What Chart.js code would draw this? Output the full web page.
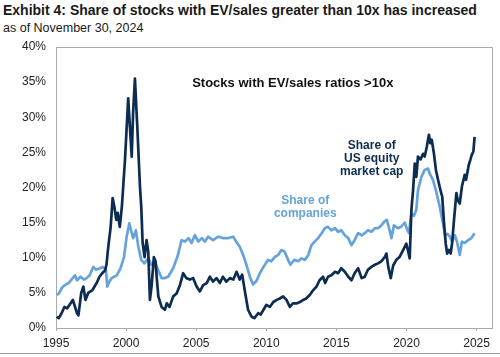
<!DOCTYPE html>
<html><head><meta charset="utf-8">
<script src="https://cdn.jsdelivr.net/npm/chart.js@4.4.0/dist/chart.umd.min.js"></script>
<style>
html,body{margin:0;padding:0;background:#fff;}
#wrap{position:relative;width:500px;height:357px;overflow:hidden;font-family:"Liberation Sans",Arial,sans-serif;color:#1a1a1a;}
#title{position:absolute;left:3px;top:2px;font-weight:bold;font-size:14px;white-space:nowrap;}
#sub{position:absolute;left:3px;top:21px;font-size:12.5px;white-space:nowrap;}
#rule{position:absolute;left:0;top:353px;width:500px;height:1px;background:#9a9a9a;}
canvas{position:absolute;left:0;top:0;}
</style></head>
<body>
<div id="wrap">
<div id="title">Exhibit 4: Share of stocks with EV/sales greater than 10x has increased</div>
<div id="sub">as of November 30, 2024</div>
<canvas id="c" width="500" height="357"></canvas>
<div id="rule"></div>
</div>
<script>
const xTicks = [1995, 2000, 2005, 2010, 2015, 2020, 2025];
const yTicks = [0, 5, 10, 15, 20, 25, 30, 35, 40];

const capYears = [1995.05,1995.2,1995.4,1995.6,1995.8,1996.2,1996.5,1996.6,1996.8,1996.95,1997.1,1997.3,1997.6,1997.9,1998.1,1998.3,1998.5,1998.6,1998.73,1998.9,1999.04,1999.15,1999.3,1999.4,1999.55,1999.7,1999.92,2000.15,2000.4,2000.5,2000.63,2000.8,2000.99,2001.08,2001.18,2001.32,2001.46,2001.58,2001.7,2001.82,2001.98,2002.1,2002.18,2002.3,2002.53,2002.77,2002.9,2003.1,2003.36,2003.6,2003.84,2004.07,2004.3,2004.55,2004.78,2005.03,2005.26,2005.5,2005.75,2005.98,2006.2,2006.45,2006.69,2006.9,2007.15,2007.4,2007.65,2007.88,2008.1,2008.28,2008.5,2008.7,2008.95,2009.15,2009.42,2009.6,2009.8,2010.0,2010.25,2010.5,2010.75,2010.96,2011.2,2011.44,2011.68,2011.9,2012.15,2012.4,2012.63,2012.85,2013.1,2013.35,2013.58,2013.8,2014.05,2014.2,2014.4,2014.65,2014.9,2015.12,2015.35,2015.6,2015.85,2016.08,2016.3,2016.55,2016.8,2017.02,2017.25,2017.5,2017.75,2017.97,2018.2,2018.45,2018.57,2018.7,2018.88,2019.05,2019.28,2019.5,2019.76,2019.99,2020.1,2020.23,2020.35,2020.47,2020.59,2020.7,2020.82,2021.0,2021.18,2021.3,2021.45,2021.6,2021.7,2021.8,2021.96,2022.1,2022.25,2022.45,2022.55,2022.68,2022.8,2022.9,2023.03,2023.15,2023.25,2023.39,2023.56,2023.65,2023.8,2023.95,2024.15,2024.25,2024.44,2024.55,2024.65,2024.77,2024.86];
const capValues = [1.6,1.4,2.1,3.0,2.8,4.0,2.1,1.8,5.0,5.9,4.0,5.0,5.4,6.4,7.3,7.8,8.2,9.0,11.6,14.4,18.5,17.4,15.4,16.4,14.4,17.3,23.9,32.7,24.4,30.6,35.5,28.6,20.1,17.3,12.1,10.1,12.5,10.9,4.0,6.0,10.1,9.5,7.3,4.5,3.0,2.6,3.5,3.0,4.5,4.9,6.1,7.8,7.1,6.9,7.1,5.9,5.2,6.1,6.4,7.3,6.6,7.1,6.4,7.3,6.6,7.1,6.9,8.0,6.9,7.6,4.9,2.6,1.6,1.4,2.1,1.9,2.6,3.3,3.0,3.7,4.0,4.2,4.5,4.0,3.0,3.5,3.5,3.7,4.0,4.2,4.7,5.4,5.9,6.8,7.3,6.4,7.3,7.5,8.0,7.8,8.5,8.0,7.3,6.8,7.8,8.5,7.1,7.3,8.3,8.7,9.0,9.2,9.5,10.1,10.6,8.7,7.1,8.9,9.7,10.1,11.1,12.0,11.1,9.9,16.8,19.6,23.4,21.5,24.4,24.0,24.8,24.4,25.8,27.5,26.3,26.8,24.8,22.5,21.1,19.4,18.7,14.9,12.0,10.6,11.1,10.6,12.0,15.4,19.2,18.3,17.7,20.1,21.8,21.1,23.2,23.9,24.6,25.1,27.2];

const coYears = [1995.05,1995.2,1995.45,1995.64,1995.9,1996.15,1996.35,1996.5,1996.75,1997.0,1997.19,1997.4,1997.66,1997.85,1998.14,1998.35,1998.56,1998.66,1998.8,1998.97,1999.15,1999.33,1999.6,1999.85,2000.04,2000.23,2000.38,2000.5,2000.7,2000.87,2001.08,2001.3,2001.58,2001.8,2002.05,2002.29,2002.53,2002.75,2003.0,2003.36,2003.7,2003.95,2004.2,2004.45,2004.67,2004.9,2005.15,2005.4,2005.62,2005.85,2006.2,2006.57,2006.9,2007.3,2007.64,2007.85,2008.1,2008.35,2008.55,2008.83,2009.06,2009.3,2009.54,2009.8,2010.13,2010.35,2010.6,2010.85,2011.08,2011.3,2011.56,2011.72,2012.0,2012.27,2012.5,2012.75,2013.0,2013.22,2013.45,2013.7,2013.95,2014.17,2014.4,2014.65,2014.9,2015.12,2015.35,2015.6,2015.85,2016.08,2016.3,2016.55,2016.8,2017.02,2017.25,2017.5,2017.75,2017.97,2018.2,2018.45,2018.6,2018.8,2018.93,2019.1,2019.4,2019.6,2019.88,2020.05,2020.18,2020.35,2020.54,2020.7,2020.82,2021.06,2021.3,2021.53,2021.65,2021.89,2022.1,2022.37,2022.6,2022.75,2022.92,2023.1,2023.25,2023.45,2023.6,2023.8,2023.95,2024.15,2024.4,2024.63,2024.86];
const coValues = [4.7,4.9,5.8,6.1,6.4,7.0,7.5,6.8,7.3,6.9,7.1,7.5,8.7,8.3,8.5,8.7,8.3,5.9,6.6,7.1,7.3,7.5,8.5,10.1,13.0,14.9,13.7,12.8,13.9,11.6,9.7,9.2,9.9,9.0,9.5,8.2,7.1,7.1,7.3,8.5,10.4,12.5,12.3,12.8,12.1,13.2,12.3,12.8,12.3,13.0,12.5,13.0,12.8,12.8,13.0,12.3,11.6,10.4,9.2,7.3,6.2,6.7,7.8,8.7,9.7,9.5,10.1,10.4,11.1,10.9,9.7,9.0,9.7,9.5,9.9,9.7,10.4,11.8,12.3,12.8,13.5,14.2,14.4,13.9,14.2,13.7,13.9,13.2,12.8,11.8,12.5,13.5,13.2,13.5,13.9,13.7,14.2,14.2,14.6,15.2,15.4,13.9,12.8,14.6,14.2,14.4,15.0,14.0,13.5,16.3,16.0,16.8,19.6,21.5,22.5,22.7,22.0,21.1,19.6,17.3,14.9,13.2,13.4,13.0,12.3,13.2,12.3,10.4,12.3,12.1,12.5,12.8,13.5];

const DARK = '#0d2c51';
const LIGHT = '#65a3da';
const GRAYLINE = '#a9a9a9';

const labels = [
  {text:['Stocks with EV/sales ratios >10x'], x:2011.89, y:34.24, color:'#111', font:'bold 13px "Liberation Sans", Arial, sans-serif', lh:13},
  {text:['Share of','US equity','market cap'], x:2017.52, y:25.46, color:DARK, font:'bold 12px "Liberation Sans", Arial, sans-serif', lh:13},
  {text:['Share of','companies'], x:2012.78, y:17.6, color:LIGHT, font:'bold 12px "Liberation Sans", Arial, sans-serif', lh:13}
];

const framePlugin = {
  id:'frame',
  beforeDatasetsDraw(chart){
    const {ctx, chartArea:a} = chart;
    ctx.save();
    ctx.strokeStyle = GRAYLINE; ctx.lineWidth = 1;
    ctx.beginPath();
    ctx.moveTo(a.left, a.top+0.5); ctx.lineTo(a.right+0.5, a.top+0.5); ctx.lineTo(a.right+0.5, a.bottom);
    ctx.stroke();
    ctx.restore();
  },
  afterDatasetsDraw(chart){
    const {ctx, scales:{x, y}} = chart;
    ctx.save();
    ctx.textAlign = 'center'; ctx.textBaseline = 'alphabetic';
    labels.forEach(l => {
      ctx.font = l.font; ctx.fillStyle = l.color;
      const px = x.getPixelForValue(l.x);
      let py = y.getPixelForValue(l.y);
      l.text.forEach((t, i) => ctx.fillText(t, px, py + i*l.lh));
    });
    ctx.restore();
  }
};

new Chart(document.getElementById('c'), {
  type:'line',
  data:{datasets:[
    {label:'Share of US equity market cap', data:capYears.map((v,i)=>({x:v,y:capValues[i]})), borderColor:DARK, borderWidth:2.7, pointRadius:0, tension:0, borderJoinStyle:'round'},
    {label:'Share of companies', data:coYears.map((v,i)=>({x:v,y:coValues[i]})), borderColor:LIGHT, borderWidth:2.7, pointRadius:0, tension:0, borderJoinStyle:'round'}
  ]},
  options:{
    responsive:false, animation:false, devicePixelRatio:1,
    layout:{padding:{left:0,right:8,top:47,bottom:0}},
    plugins:{legend:{display:false}, tooltip:{enabled:false}, title:{display:false}},
    scales:{
      x:{type:'linear', min:1995, max:2026.1,
        afterBuildTicks:s=>{s.ticks = xTicks.map(v=>({value:v}));},
        afterFit:s=>{s.height = 29;},
        grid:{drawOnChartArea:false, drawTicks:true, tickLength:3, color:GRAYLINE},
        border:{display:true, color:GRAYLINE, width:1},
        ticks:{color:'#222', font:{family:'"Liberation Sans", Arial, sans-serif', size:12}, padding:5, maxRotation:0, autoSkip:false, callback:v=>String(v)}
      },
      y:{min:0, max:40,
        afterBuildTicks:s=>{s.ticks = yTicks.map(v=>({value:v}));},
        afterFit:s=>{s.width = 56;},
        grid:{display:false, drawTicks:false},
        border:{display:true, color:GRAYLINE, width:1},
        ticks:{color:'#222', font:{family:'"Liberation Sans", Arial, sans-serif', size:12}, padding:10, callback:v=>v+'%'}
      }
    }
  },
  plugins:[framePlugin]
});
</script>
</body></html>
